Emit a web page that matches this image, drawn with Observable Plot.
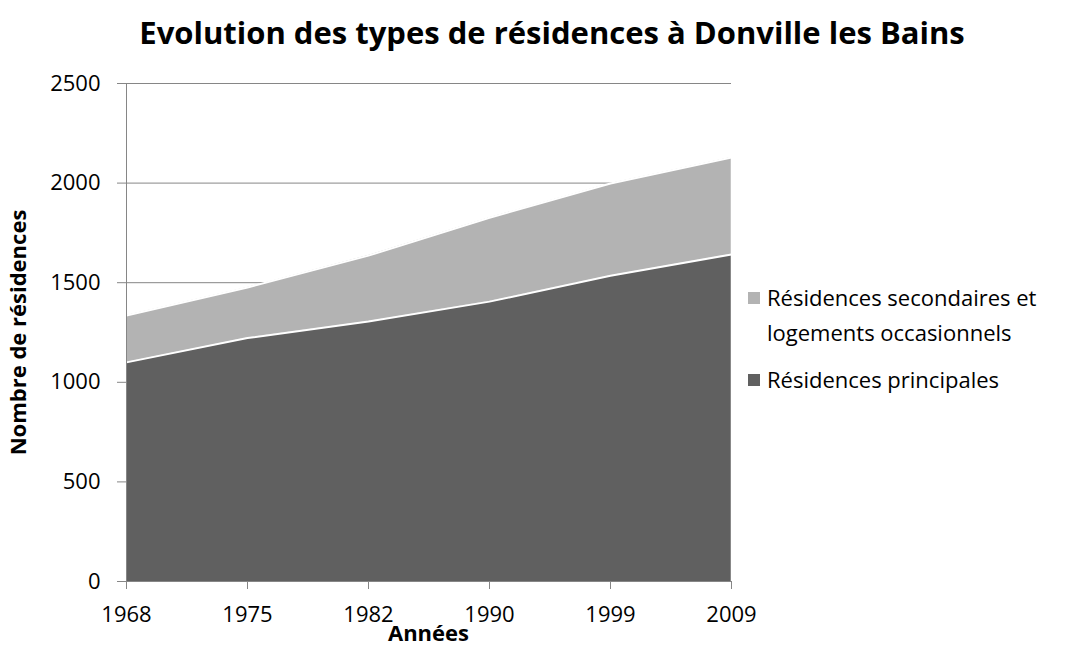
<!DOCTYPE html>
<html>
<head>
<meta charset="utf-8">
<script src="https://cdn.jsdelivr.net/npm/d3@7"></script>
<script src="https://cdn.jsdelivr.net/npm/@observablehq/plot@0.6"></script>
<style>
  body { margin: 0; background: #fff; font-family: "Open Sans", sans-serif; }
  #wrap { position: relative; width: 1068px; height: 665px; overflow: hidden; }
  #title { position: absolute; left: 36px; width: 1032px; top: 12px; text-align: center; font-weight: bold; font-size: 31px; line-height: 40px; color: #000; }
  #chart { position: absolute; left: 0; top: 60px; }
  .leg { position: absolute; font-size: 22px; color: #000; line-height: 35px; white-space: nowrap; }
  .sw { position: absolute; width: 12px; height: 12px; }
</style>
</head>
<body>
<div id="wrap">
  <div id="title">Evolution des types de résidences à Donville les Bains</div>
  <div id="chart"></div>
  <div class="sw" style="left:748px;top:292px;background:#b3b3b3"></div>
  <div class="leg" style="left:767px;top:280px">Résidences secondaires et<br>logements occasionnels</div>
  <div class="sw" style="left:748px;top:374px;background:#606060"></div>
  <div class="leg" style="left:767px;top:362px">Résidences principales</div>
</div>
<script>
const years = ["1968", "1975", "1982", "1990", "1999", "2009"];
const principales = [1100, 1222, 1305, 1405, 1535, 1642];
const secondaires = [235, 254, 331, 421, 463, 487];
const seriesNames = ["Résidences principales", "Résidences secondaires et logements occasionnels"];
const seriesColors = ["#606060", "#b3b3b3"];
const yTicks = [0, 500, 1000, 1500, 2000, 2500];
const xTitle = "Années";
const yTitle = "Nombre de résidences";

const data = [];
years.forEach((y, i) => {
  data.push({year: y, series: seriesNames[0], value: principales[i]});
  data.push({year: y, series: seriesNames[1], value: secondaires[i]});
});

const stackOpts = {x: "year", y: "value", z: "series", order: seriesNames};

const chart = Plot.plot({
  width: 1068,
  height: 605,
  marginLeft: 125,
  marginRight: 337,
  marginTop: 23,
  marginBottom: 84,
  style: {fontFamily: "Open Sans, sans-serif", color: "#000", background: "transparent"},
  x: {type: "point", domain: years, padding: 0},
  y: {domain: [0, 2500]},
  color: {domain: seriesNames, range: seriesColors},
  marks: [
    Plot.ruleY(yTicks.filter(d => d > 0), {stroke: "#868686", strokeWidth: 1}),
    Plot.areaY(data, Plot.stackY({...stackOpts, fill: "series", curve: "linear"})),
    Plot.lineY(data, Plot.stackY2({...stackOpts, stroke: "white", strokeWidth: 2})),
    Plot.ruleX([years[years.length - 1]], {y1: 0, y2: principales[principales.length - 1] + secondaires[secondaires.length - 1], stroke: "white", strokeWidth: 1.5}),
    Plot.ruleX([years[0]], {stroke: "#868686", strokeWidth: 1}),
    Plot.ruleY([0], {stroke: "#868686", strokeWidth: 1}),
    Plot.axisY({ticks: yTicks, tickSize: 8, tickPadding: 17, stroke: "#868686", fontSize: 22, label: null, tickFormat: d => String(d)}),
    Plot.axisX({tickSize: 8, tickPadding: 17, stroke: "#868686", fontSize: 22, label: null}),
    Plot.text([yTitle], {frameAnchor: "left", dx: -107, rotate: -90, textAnchor: "middle", fontSize: 22, fontWeight: "bold", fill: "#000"}),
    Plot.text([xTitle], {frameAnchor: "bottom", dy: 59, textAnchor: "middle", fontSize: 22, fontWeight: "bold", fill: "#000"})
  ]
});
document.getElementById("chart").appendChild(chart);
</script>
</body>
</html>
